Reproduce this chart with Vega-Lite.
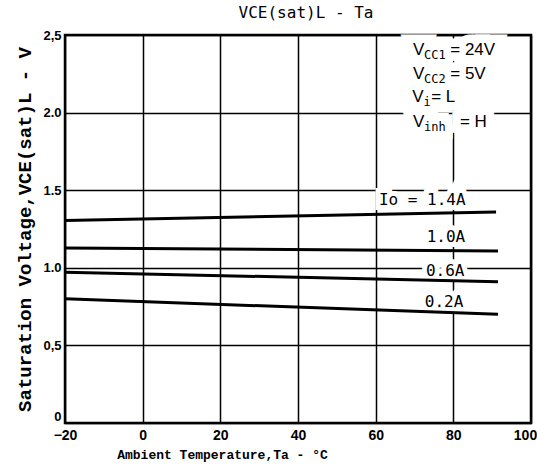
{
  "$schema": "https://vega.github.io/schema/vega-lite/v6.json",
  "width": 466,
  "height": 388,
  "autosize": {"type": "none"},
  "padding": {"left": 65, "top": 35, "right": 6, "bottom": 47},
  "background": "white",
  "title": {"text": "VCE(sat)L - Ta", "font": "DejaVu Sans Mono", "fontSize": 16, "fontWeight": "normal", "color": "black", "offset": 8, "dx": 8},
  "config": {"view": {"stroke": "black", "strokeWidth": 2.5}},
  "datasets": {
    "curves": [
      {"ta": -20, "v": 1.305, "io": "1.4A"},
      {"ta": 91, "v": 1.36, "io": "1.4A"},
      {"ta": -20, "v": 1.128, "io": "1.0A"},
      {"ta": 91.5, "v": 1.108, "io": "1.0A"},
      {"ta": -20, "v": 0.972, "io": "0.6A"},
      {"ta": 91.5, "v": 0.91, "io": "0.6A"},
      {"ta": -20, "v": 0.80, "io": "0.2A"},
      {"ta": 91.5, "v": 0.70, "io": "0.2A"}
    ],
    "texts": [
      {"ta": 72.0, "v": 1.437, "kind": "curve", "t": "Io = 1.4A"},
      {"ta": 78.1, "v": 1.198, "kind": "curve", "t": "1.0A"},
      {"ta": 77.9, "v": 0.979, "kind": "curve", "t": "0.6A"},
      {"ta": 77.6, "v": 0.78, "kind": "curve", "t": "0.2A"},
      {"ta": 69.6, "v": 2.403, "kind": "main", "t": "V"},
      {"ta": 72.45, "v": 2.403, "kind": "sub", "t": "CC1"},
      {"ta": 79.2, "v": 2.403, "kind": "main", "t": "= 24V"},
      {"ta": 69.6, "v": 2.249, "kind": "main", "t": "V"},
      {"ta": 72.45, "v": 2.249, "kind": "sub", "t": "CC2"},
      {"ta": 79.2, "v": 2.249, "kind": "main", "t": "= 5V"},
      {"ta": 69.4, "v": 2.101, "kind": "main", "t": "V"},
      {"ta": 72.3, "v": 2.101, "kind": "sub", "t": "i"},
      {"ta": 74.3, "v": 2.101, "kind": "main", "t": "= L"},
      {"ta": 69.6, "v": 1.939, "kind": "main", "t": "V"},
      {"ta": 72.45, "v": 1.939, "kind": "sub", "t": "inh"},
      {"ta": 81.7, "v": 1.939, "kind": "main", "t": "= H"}
    ]
  },
  "encoding": {
    "x": {
      "field": "ta", "type": "quantitative",
      "scale": {"domain": [-20, 100], "nice": false, "zero": false},
      "axis": {
        "title": "Ambient Temperature,Ta - °C",
        "values": [-20, 0, 20, 40, 60, 80, 100],
        "grid": true, "gridColor": "black", "gridWidth": 1.5, "gridOpacity": 1,
        "ticks": false, "domain": false,
        "labelFont": "Liberation Sans", "labelFontWeight": "bold", "labelFontSize": 14, "labelColor": "black",
        "labelPadding": 5, "labelFlush": false, "labelOverlap": false,
        "labelOffset": {"condition": {"test": "datum.value == 100", "value": -6}, "value": 0},
        "titleFont": "Liberation Mono", "titleFontWeight": "bold", "titleFontSize": 13, "titleColor": "black",
        "titlePadding": 6, "titleX": 157
      }
    },
    "y": {
      "field": "v", "type": "quantitative",
      "scale": {"domain": [0, 2.5], "nice": false},
      "axis": {
        "title": "Saturation Voltage,VCE(sat)L - V",
        "values": [0, 0.5, 1, 1.5, 2, 2.5],
        "labelExpr": "datum.value == 2.5 ? '2,5' : datum.value == 0.5 ? '0,5' : datum.value == 0 ? '0' : format(datum.value, '.1f')",
        "grid": true, "gridColor": "black", "gridWidth": 1.5, "gridOpacity": 1,
        "ticks": false, "domain": false,
        "labelFont": "Liberation Sans", "labelFontWeight": "bold", "labelFontSize": 13, "labelColor": "black",
        "labelPadding": 4, "labelOverlap": false,
        "labelBaseline": {"condition": {"test": "datum.value == 0", "value": "bottom"}, "value": "middle"},
        "titleFont": "Liberation Mono", "titleFontWeight": "bold", "titleFontSize": 19, "titleColor": "black",
        "titlePadding": 8
      }
    }
  },
  "layer": [
    {
      "data": {"name": "texts"},
      "transform": [{"filter": "datum.kind == 'curve'"}],
      "mark": {"type": "text", "font": "DejaVu Sans Mono", "fontSize": 16, "align": "center", "baseline": "middle", "fill": "white", "stroke": "white", "strokeWidth": 10},
      "encoding": {"text": {"field": "t"}}
    },
    {
      "data": {"name": "texts"},
      "transform": [{"filter": "datum.kind == 'main'"}],
      "mark": {"type": "text", "font": "Liberation Sans", "fontSize": 17, "align": "left", "baseline": "middle", "fill": "white", "stroke": "white", "strokeWidth": 17},
      "encoding": {"text": {"field": "t"}}
    },
    {
      "data": {"name": "texts"},
      "transform": [{"filter": "datum.kind == 'sub'"}],
      "mark": {"type": "text", "font": "DejaVu Sans Mono", "fontSize": 12, "align": "left", "baseline": "middle", "dy": 5, "fill": "white", "stroke": "white", "strokeWidth": 16},
      "encoding": {"text": {"field": "t"}}
    },
    {
      "data": {"name": "curves"},
      "mark": {"type": "line", "color": "black", "strokeWidth": 3},
      "encoding": {"detail": {"field": "io"}}
    },
    {
      "data": {"name": "texts"},
      "transform": [{"filter": "datum.kind == 'curve'"}],
      "mark": {"type": "text", "font": "DejaVu Sans Mono", "fontSize": 16, "align": "center", "baseline": "middle", "color": "black"},
      "encoding": {"text": {"field": "t"}}
    },
    {
      "data": {"name": "texts"},
      "transform": [{"filter": "datum.kind == 'main'"}],
      "mark": {"type": "text", "font": "Liberation Sans", "fontSize": 17, "align": "left", "baseline": "middle", "color": "black"},
      "encoding": {"text": {"field": "t"}}
    },
    {
      "data": {"name": "texts"},
      "transform": [{"filter": "datum.kind == 'sub'"}],
      "mark": {"type": "text", "font": "DejaVu Sans Mono", "fontSize": 12, "align": "left", "baseline": "middle", "dy": 5, "color": "black"},
      "encoding": {"text": {"field": "t"}}
    }
  ]
}
